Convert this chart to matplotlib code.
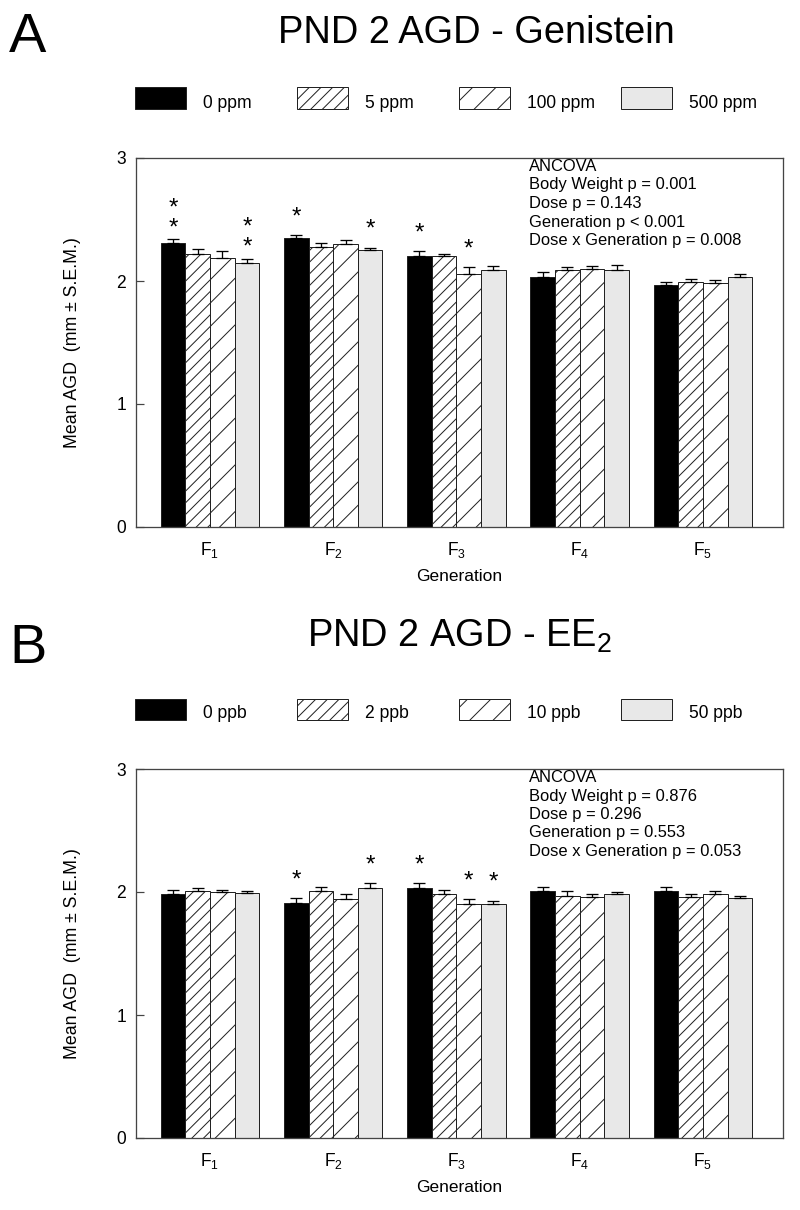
import numpy as np
import matplotlib
matplotlib.use('Agg')
import matplotlib.pyplot as plt
from matplotlib.patches import Rectangle

DPI = 140

def pt(px):
    # pixel size -> points at the output dpi
    return px * 72.0 / DPI

def fx(px):
    return px / 800.0

def fy(py):
    return 1 - py / 1210.0

plt.rcParams['font.family'] = ['Liberation Sans', 'DejaVu Sans']
plt.rcParams['mathtext.fontset'] = 'custom'
plt.rcParams['mathtext.rm'] = 'Liberation Sans'
plt.rcParams['mathtext.it'] = 'Liberation Sans:italic'
plt.rcParams['hatch.linewidth'] = pt(1.0)

generations = ['F$_1$', 'F$_2$', 'F$_3$', 'F$_4$', 'F$_5$']

# A - genistein (rows = dose, cols = generation)
doses_a = ['0 ppm', '5 ppm', '100 ppm', '500 ppm']
mean_a = [[2.31, 2.35, 2.20, 2.03, 1.97],
          [2.22, 2.28, 2.20, 2.09, 1.99],
          [2.19, 2.30, 2.06, 2.10, 1.98],
          [2.15, 2.25, 2.09, 2.09, 2.03]]
sem_a = [[0.03, 0.02, 0.04, 0.04, 0.02],
         [0.04, 0.03, 0.02, 0.02, 0.03],
         [0.05, 0.03, 0.05, 0.02, 0.03],
         [0.03, 0.02, 0.03, 0.04, 0.03]]
stars_a = [[2, 1, 1, 0, 0],
           [0, 0, 0, 0, 0],
           [0, 0, 1, 0, 0],
           [2, 1, 0, 0, 0]]
stats_a = ['ANCOVA', 'Body Weight p = 0.001', 'Dose p = 0.143',
           'Generation p < 0.001', 'Dose x Generation p = 0.008']

# B - EE2
doses_b = ['0 ppb', '2 ppb', '10 ppb', '50 ppb']
mean_b = [[1.98, 1.91, 2.03, 2.01, 2.01],
          [2.01, 2.01, 1.98, 1.97, 1.96],
          [2.00, 1.94, 1.90, 1.96, 1.98],
          [1.99, 2.03, 1.90, 1.98, 1.95]]
sem_b = [[0.04, 0.04, 0.04, 0.03, 0.03],
         [0.02, 0.03, 0.04, 0.04, 0.02],
         [0.02, 0.04, 0.04, 0.02, 0.03],
         [0.02, 0.04, 0.03, 0.02, 0.02]]
stars_b = [[0, 1, 1, 0, 0],
           [0, 0, 0, 0, 0],
           [0, 0, 1, 0, 0],
           [0, 1, 1, 0, 0]]
stats_b = ['ANCOVA', 'Body Weight p = 0.876', 'Dose p = 0.296',
           'Generation p = 0.553', 'Dose x Generation p = 0.053']

colors = ['black', 'white', 'white', '#e8e8e8']
hatches = ['', '////', '//', '']
edge = '#222222'

fig = plt.figure(figsize=(800 / DPI, 1210 / DPI), dpi=DPI)


def panel(top, letter, title, title_x, title_base, doses, mean, sem, stars, stats):
    ax = fig.add_axes([fx(136), fy(top + 369), fx(783) - fx(136), 369 / 1210.0])
    x = np.arange(len(generations))
    w = 0.2
    for i in range(len(doses)):
        xs = x + (i - 1.5) * w
        ax.bar(xs, mean[i], w, color=colors[i], hatch=hatches[i],
               edgecolor=edge, linewidth=pt(1.0), zorder=2)
        ax.errorbar(xs, mean[i], yerr=[np.zeros(len(x)), sem[i]], fmt='none',
                    ecolor='black', elinewidth=pt(1.3), capsize=pt(6),
                    capthick=pt(1.3), zorder=3)
        for j in range(len(x)):
            n = stars[i][j]
            if n == 0:
                continue
            offs = [18] if n == 1 else [11, 31]
            for o in offs:
                ax.annotate('*', (xs[j], mean[i][j] + sem[i][j]),
                            xytext=(0, pt(o)), textcoords='offset points',
                            ha='center', va='center', fontsize=pt(24))

    ax.set_xlim(-0.6, 4.65)
    ax.set_ylim(0, 3)
    ax.set_yticks([0, 1, 2, 3])
    ax.set_xticks(x)
    ax.set_xticklabels(generations)
    ax.tick_params(axis='y', direction='in', length=pt(8), width=pt(1.2),
                   pad=pt(10), labelsize=pt(17.5), colors='#444444',
                   labelcolor='black')
    ax.tick_params(axis='x', length=0, pad=pt(13), labelsize=pt(17.5))
    for s in ax.spines.values():
        s.set_color('#444444')
        s.set_linewidth(pt(1.3))
    ax.set_xlabel('Generation', fontsize=pt(17.4), labelpad=pt(9))
    ax.set_ylabel('Mean AGD  (mm ± S.E.M.)', fontsize=pt(17.8))
    ax.yaxis.set_label_coords(-0.085, 0.5)

    for k, line in enumerate(stats):
        fig.text(fx(529), fy(top + 13 + k * 18.5), line, va='baseline',
                 fontsize=pt(16.5))

    # legend row
    leg_top = top - 70.5
    for i, lab in enumerate(doses):
        x0 = 135 + 162 * i
        fig.add_artist(Rectangle((fx(x0), fy(leg_top + 21)), fx(51), 21 / 1210.0,
                                 transform=fig.transFigure, facecolor=colors[i],
                                 hatch=hatches[i], edgecolor=edge,
                                 linewidth=pt(1.0)))
        fig.text(fx(x0 + 68), fy(leg_top + 20), lab, va='baseline',
                 fontsize=pt(17.5))

    fig.text(fx(title_x), fy(title_base), title, ha='center', va='baseline',
             fontsize=pt(38))
    fig.text(fx(9), fy(top - 106), letter, va='baseline', fontsize=pt(56))
    return ax


panel(158, 'A', 'PND 2 AGD - Genistein', 476, 43,
      doses_a, mean_a, sem_a, stars_a, stats_a)
panel(769, 'B', 'PND 2 AGD - EE$_2$', 460, 647,
      doses_b, mean_b, sem_b, stars_b, stats_b)

fig.savefig('out.png', dpi=DPI)
